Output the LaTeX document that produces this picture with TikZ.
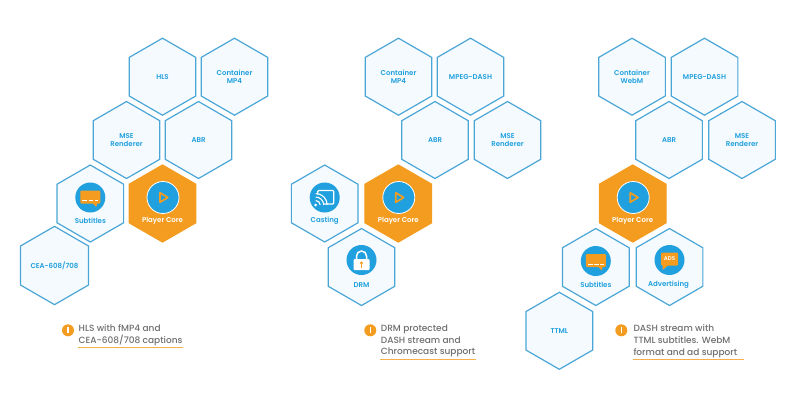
\documentclass[tikz,border=0pt]{standalone}
\usepackage{fontspec}
\setmainfont{Poppins}
\newfontfamily\labelfont{Poppins Medium}
\newfontfamily\hexfont{Poppins SemiBold}
\usetikzlibrary{shapes.geometric,positioning,calc}
\definecolor{hexblue}{HTML}{4BA6D8}
\definecolor{hexfill}{HTML}{F4FAFD}
\definecolor{iconblue}{HTML}{20A0DE}
\definecolor{coreorange}{HTML}{F39C1F}
\definecolor{notegray}{HTML}{6E6E70}
\tikzset{
    hexbox/.style={draw=hexblue, line width=1.2pt, fill=hexfill, regular polygon, regular polygon sides=6, shape border rotate=30, minimum size=77pt, inner sep=0pt, align=center, text=iconblue, font=\fontsize{7}{8.6}\hexfont},
    corebox/.style={hexbox, draw=coreorange, fill=coreorange},
    hexlabel/.style={text=iconblue, inner sep=0pt, font=\fontsize{7}{8.6}\hexfont},
    iconback/.style={circle, fill=iconblue, minimum size=30pt, inner sep=0pt},
    notemark/.style={circle, fill=coreorange, minimum size=12pt, inner sep=0pt},
    notetext/.style={text=notegray, inner sep=0pt, anchor=west, align=left, font=\fontsize{9}{11.6}\labelfont},
}
% speech bubble with caption dashes
\newcommand{\subsicon}[1]{
    \fill[coreorange, rounded corners=1pt] ($(#1)+(-10,-7)$) rectangle ($(#1)+(10,6)$);
    \fill[coreorange] ($(#1)+(2,5.5)$) -- ($(#1)+(7,5.5)$) -- ($(#1)+(6,9.5)$) -- cycle;
    \draw[white, line width=0.8pt] ($(#1)+(-8,3)$) -- ($(#1)+(-3,3)$) ($(#1)+(-1.5,3)$) -- ($(#1)+(3,3)$) ($(#1)+(4.5,3)$) -- ($(#1)+(8,3)$);
}
\newcommand{\playicon}[1]{
    \node[iconback, draw=white, line width=0.8pt, minimum size=32pt] at (#1) {};
    \draw[coreorange, line width=1.7pt, line join=round] ($(#1)+(-3,-4.8)$) -- ($(#1)+(4.8,0)$) -- ($(#1)+(-3,4.8)$) -- cycle;
}
\begin{document}
\begin{tikzpicture}[x=1pt, y=-1pt]
    \useasboundingbox (0,0) rectangle (800,400);

    % first group
    \node[hexbox] (hlsa) at (162.5,76.7) {HLS};
    \node[hexbox] (mpa) at (234.5,76.7) {Container\\MP4};
    \node[hexbox] (msea) at (126.5,140) {MSE\\Renderer};
    \node[hexbox] (abra) at (198.5,140) {ABR};
    \node[hexbox] (subsa) at (90.3,203.5) {};
    \node[corebox] (corea) at (162.5,203.5) {};
    \node[hexbox] (cea) at (54.5,265.5) {CEA-608/708};

    % second group
    \node[hexbox] (mpb) at (398.5,76.7) {Container\\MP4};
    \node[hexbox] (dashb) at (470.5,76.7) {MPEG-DASH};
    \node[hexbox] (abrb) at (435,140) {ABR};
    \node[hexbox] (mseb) at (507.5,140) {MSE\\Renderer};
    \node[hexbox] (cast) at (324.7,203.5) {};
    \node[corebox] (coreb) at (398.3,203.5) {};
    \node[hexbox] (drm) at (361.5,267) {};

    % third group
    \node[hexbox] (webm) at (632,76.7) {Container\\WebM};
    \node[hexbox] (dashc) at (704.5,76.7) {MPEG-DASH};
    \node[hexbox] (abrc) at (669,140) {ABR};
    \node[hexbox] (msec) at (742,140) {MSE\\Renderer};
    \node[corebox] (corec) at (632.7,203.5) {};
    \node[hexbox] (subsc) at (595.8,267) {};
    \node[hexbox] (ads) at (669.5,267) {};
    \node[hexbox] (ttml) at (559.3,330.8) {TTML};

    % icons and labels under them
    \foreach \core in {corea,coreb,corec} {
        \coordinate (p) at ($(\core.center)+(0.5,-6)$);
        \playicon{p}
        \node[hexlabel, text=white] at ($(\core.center)+(0,17.5)$) {Player Core};
    }
    \foreach \subs in {subsa,subsc} {
        \coordinate (s) at ($(\subs.center)+(0,-6)$);
        \node[iconback] at (s) {};
        \subsicon{s}
        \node[hexlabel] at ($(\subs.center)+(0,17.5)$) {Subtitles};
    }

    \coordinate (c) at ($(cast.center)+(0,-6)$);
    \node[iconback] at (c) {};
    \draw[white, line width=1.2pt, rounded corners=1pt] ($(c)+(-7,-3)$) |- ($(c)+(9,-7)$) |- ($(c)+(-1,6.5)$);
    \foreach \r in {4.5,8,11.5} {
        \draw[white, line width=1.1pt] ($(c)+(-9,7.5)+(0,-\r)$) arc (-90:0:\r);
    }
    \fill[white] ($(c)+(-9,7.5)$) circle (1.5);
    \node[hexlabel] at ($(cast.center)+(0,17.5)$) {Casting};

    \coordinate (d) at ($(drm.center)+(0,-7)$);
    \node[iconback] at (d) {};
    \draw[white, line width=1.5pt] ($(d)+(-5,0)$) -- ($(d)+(-5,-4)$) arc (180:360:5) -- ($(d)+(5,0)$);
    \fill[white, rounded corners=1pt] ($(d)+(-8,-1)$) rectangle ($(d)+(8,10)$);
    \fill[coreorange] ($(d)+(0,3)$) circle (1.6);
    \fill[coreorange] ($(d)+(-0.9,3)$) rectangle ($(d)+(0.9,7.5)$);
    \node[hexlabel] at ($(drm.center)+(0,18)$) {DRM};

    \coordinate (a) at ($(ads.center)+(0,-7)$);
    \node[iconback] at (a) {};
    \fill[coreorange, rounded corners=1pt] ($(a)+(-8.5,-7.5)$) rectangle ($(a)+(8.5,5.5)$);
    \fill[coreorange] ($(a)+(-7,5)$) -- ($(a)+(-1,5)$) -- ($(a)+(-7,10)$) -- cycle;
    \node[text=white, inner sep=0pt, font=\fontsize{5.5}{6}\hexfont] (adstext) at ($(a)+(0,-1)$) {ADS};
    \node[hexlabel] at ($(ads.center)+(-1,18)$) {Advertising};

    % notes
    \node[notemark] (marka) at (68,330.3) {};
    \node[notemark] (markb) at (370.3,330.3) {};
    \node[notemark] (markc) at (621.3,330.3) {};
    \foreach \m in {marka,markb,markc} {
        \draw[white, line width=1.6pt] ($(\m.center)+(0,-3)$) -- ($(\m.center)+(0,3)$);
    }
    \node[notetext] (notea) at (78.5,335.3) {HLS with fMP4 and\\CEA-608/708 captions};
    \node[notetext] (noteb) at (380.7,341.2) {DRM protected\\DASH stream and\\Chromecast support};
    \node[notetext] (notec) at (633.3,341.2) {DASH stream with\\TTML subtitles. WebM\\format and ad support};
    \draw[coreorange!80!white, line width=0.7pt] (78,347.3) -- (183,347.3);
    \draw[coreorange!80!white, line width=0.7pt] (380,359.3) -- (476,359.3);
    \draw[coreorange!80!white, line width=0.7pt] (633,359.3) -- (744,359.3);
\end{tikzpicture}
\end{document}
